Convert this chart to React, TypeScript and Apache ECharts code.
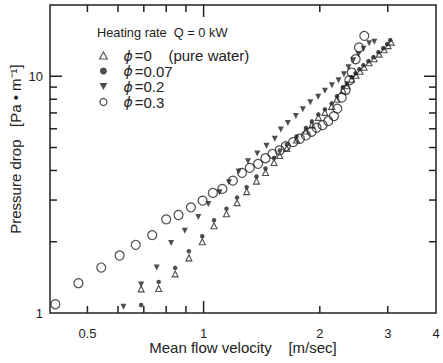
import React, { useEffect, useRef } from 'react';
import * as echarts from 'echarts';

// ---- axis ranges & ticks ----
const X_MIN = 0.4;
const X_MAX = 4;
const Y_MIN = 1;
const Y_MAX = 20;
const xTickMinor = [0.5, 0.6, 0.7, 0.8, 0.9, 2, 3];
const xTickMajor = [1];
const yTickMinor = [2, 3, 4, 5, 6, 7, 8, 9];
const yTickMajor = [10];
const xTickLabels = [0.5, 1, 2, 3, 4];
const yTickLabels = [1, 10];

// ---- series names ----
const seriesNames = ['ϕ=0    (pure water)', 'ϕ=0.07', 'ϕ=0.2', 'ϕ=0.3'];

// ---- data: phi = 0 (pure water) ----
const vWater = [0.689, 0.765, 0.844, 0.916, 0.992, 1.064, 1.146, 1.221, 1.293, 1.371, 1.447, 1.522, 1.575, 1.643, 1.741, 1.841, 1.908, 1.983, 2.062, 2.147, 2.216, 2.296, 2.352, 2.419, 2.482, 2.542, 2.604, 2.684, 2.765, 2.848, 2.935, 3.006, 3.061];
const pWater = [1.264, 1.27, 1.463, 1.71, 2.0, 2.337, 2.627, 2.925, 3.257, 3.608, 3.92, 4.321, 4.627, 4.955, 5.381, 5.875, 6.231, 6.704, 7.038, 7.463, 7.991, 8.724, 9.115, 9.712, 10.1, 10.5, 10.92, 11.41, 11.86, 12.4, 12.95, 13.47, 13.94];

// ---- data: phi = 0.07 ----
const v007 = [0.689, 0.765, 0.844, 0.916, 0.992, 1.064, 1.146, 1.221, 1.293, 1.371, 1.447, 1.522, 1.575, 1.643, 1.741, 1.841, 1.908, 1.983, 2.062, 2.147, 2.216, 2.296, 2.352, 2.419, 2.475, 2.532, 2.593, 2.672, 2.753, 2.837, 2.918, 2.988, 3.043];
const p007 = [1.081, 1.353, 1.551, 1.822, 2.11, 2.466, 2.759, 3.072, 3.402, 3.77, 4.076, 4.515, 4.858, 5.15, 5.568, 6.05, 6.448, 6.902, 7.247, 7.684, 8.228, 8.982, 9.34, 9.903, 10.3, 10.71, 11.13, 11.57, 12.04, 12.64, 13.14, 13.67, 14.21];

// ---- data: phi = 0.2 ----
const v02 = [0.62, 0.689, 0.756, 0.824, 0.894, 0.969, 1.029, 1.1, 1.163, 1.233, 1.303, 1.377, 1.455, 1.529, 1.585, 1.653, 1.734, 1.807, 1.89, 1.981, 2.062, 2.15, 2.236, 2.31, 2.373, 2.442, 2.519, 2.596, 2.684, 2.769];
const p02 = [1.063, 1.321, 1.556, 1.974, 2.226, 2.544, 2.888, 3.234, 3.565, 3.958, 4.376, 4.717, 5.087, 5.445, 5.963, 6.353, 6.8, 7.25, 7.76, 8.19, 8.68, 9.16, 9.62, 10.2, 10.92, 11.69, 12.4, 13.08, 13.8, 14.0];

// ---- data: phi = 0.3 ----
const v03 = [0.413, 0.474, 0.543, 0.606, 0.667, 0.736, 0.8, 0.861, 0.927, 0.994, 1.057, 1.118, 1.191, 1.257, 1.317, 1.384, 1.446, 1.508, 1.575, 1.633, 1.706, 1.776, 1.841, 1.905, 1.962, 2.034, 2.103, 2.176, 2.22, 2.279, 2.334, 2.385, 2.419, 2.477, 2.527, 2.608];
const p03 = [1.089, 1.336, 1.556, 1.749, 1.941, 2.134, 2.486, 2.594, 2.794, 2.983, 3.215, 3.343, 3.625, 3.908, 4.103, 4.267, 4.506, 4.704, 4.873, 5.067, 5.268, 5.445, 5.623, 5.83, 6.06, 6.22, 6.47, 6.79, 7.3, 8.12, 8.75, 9.62, 10.37, 11.8, 13.23, 14.82];

const FONT = '"Liberation Sans", Arial, Helvetica, sans-serif';
const INK = '#222';
const DOWN_TRIANGLE = 'path://M0,0L10,0L5,9Z';
const UP_TRIANGLE = 'path://M5,0L10,9L0,9Z';

const pairs = (xs: number[], ys: number[]) => xs.map((x, i) => [x, ys[i]]);

function tickSeries(values: number[], axis: 'x' | 'y', len: number) {
  return {
    type: 'custom',
    silent: true,
    z: 6,
    data: values.map((v) => (axis === 'x' ? [v, Y_MIN] : [X_MIN, v])),
    renderItem: (_p: any, api: any) => {
      const style = { stroke: INK, lineWidth: 1.5 };
      if (axis === 'x') {
        const v = api.value(0);
        const a = api.coord([v, Y_MIN]);
        const b = api.coord([v, Y_MAX]);
        return {
          type: 'group',
          children: [
            { type: 'line', shape: { x1: a[0], y1: a[1], x2: a[0], y2: a[1] - len }, style },
            { type: 'line', shape: { x1: b[0], y1: b[1], x2: b[0], y2: b[1] + len }, style },
          ],
        };
      }
      const v = api.value(1);
      const a = api.coord([X_MIN, v]);
      const b = api.coord([X_MAX, v]);
      return {
        type: 'group',
        children: [
          { type: 'line', shape: { x1: a[0], y1: a[1], x2: a[0] + len, y2: a[1] }, style },
          { type: 'line', shape: { x1: b[0], y1: b[1], x2: b[0] - len, y2: b[1] }, style },
        ],
      };
    },
  };
}

function labelSeries(values: number[], axis: 'x' | 'y') {
  return {
    type: 'custom',
    silent: true,
    z: 6,
    data: values.map((v) => (axis === 'x' ? [v, Y_MIN] : [X_MIN, v])),
    renderItem: (_p: any, api: any) => {
      if (axis === 'x') {
        const v = api.value(0);
        const a = api.coord([v, Y_MIN]);
        return {
          type: 'text',
          x: a[0],
          y: a[1] + 20,
          style: { text: String(v), fill: INK, fontSize: 13, fontFamily: FONT, align: 'center', verticalAlign: 'middle' },
        };
      }
      const v = api.value(1);
      const a = api.coord([X_MIN, v]);
      return {
        type: 'text',
        x: a[0] - 7,
        y: a[1],
        style: { text: String(v), fill: INK, fontSize: 13, fontFamily: FONT, align: 'right', verticalAlign: 'middle' },
      };
    },
  };
}

export default function App() {
  const ref = useRef<HTMLDivElement>(null);
  useEffect(() => {
    if (!ref.current) return;
    const chart = echarts.init(ref.current, null, { renderer: 'svg' });
    const option: any = {
      animation: false,
      backgroundColor: '#fff',
      title: {
        text: 'Heating rate  Q = 0 kW',
        left: 97,
        top: 26,
        padding: 0,
        textStyle: { fontSize: 12.8, fontWeight: 'normal', fontFamily: FONT, color: INK },
      },
      legend: {
        orient: 'vertical',
        left: 99,
        top: 48,
        padding: 0,
        itemWidth: 8,
        itemHeight: 7,
        itemGap: 0.5,
        selectedMode: false,
        data: [
          { name: seriesNames[0], icon: UP_TRIANGLE, itemStyle: { color: '#fff', borderColor: INK, borderWidth: 1.1 } },
          { name: seriesNames[1], icon: 'circle', itemStyle: { color: INK, borderWidth: 0 } },
          { name: seriesNames[2], icon: DOWN_TRIANGLE, itemStyle: { color: INK, borderWidth: 0 } },
          { name: seriesNames[3], icon: 'circle', itemStyle: { color: '#fff', borderColor: INK, borderWidth: 1.2 } },
        ],
        formatter: (n: string) => n.replace('ϕ', '{i|ϕ}'),
        textStyle: {
          fontSize: 15,
          lineHeight: 15,
          fontFamily: FONT,
          color: INK,
          rich: {
            i: { fontStyle: 'italic', fontFamily: '"DejaVu Sans"', fontSize: 14, lineHeight: 15, color: INK, padding: [0, 2, 0, 11] },
          },
        },
      },
      grid: { left: 50, right: 7, top: 5, bottom: 50, show: true, borderColor: INK, borderWidth: 1.5 },
      xAxis: {
        type: 'log',
        logBase: 10,
        min: X_MIN,
        max: X_MAX,
        axisLine: { show: false },
        axisTick: { show: false },
        axisLabel: { show: false },
        splitLine: { show: false },
        name: 'Mean flow velocity    [m/sec]',
        nameLocation: 'middle',
        nameGap: 27,
        nameTextStyle: { fontSize: 15, fontFamily: FONT, color: INK },
      },
      yAxis: {
        type: 'log',
        logBase: 10,
        min: Y_MIN,
        max: Y_MAX,
        axisLine: { show: false },
        axisTick: { show: false },
        axisLabel: { show: false },
        splitLine: { show: false },
        name: 'Pressure drop   [Pa • m⁻¹]',
        nameLocation: 'middle',
        nameRotate: 90,
        nameGap: 27,
        nameTextStyle: { fontSize: 15, fontFamily: FONT, color: INK, padding: [0, 0, 0, 20] },
      },
      series: [
        {
          name: seriesNames[0],
          type: 'scatter',
          symbol: 'triangle',
          symbolSize: 6,
          z: 3,
          itemStyle: { color: '#fff', borderColor: INK, borderWidth: 1.1 },
          data: pairs(vWater, pWater),
        },
        {
          name: seriesNames[1],
          type: 'scatter',
          symbol: 'circle',
          symbolSize: 4.5,
          z: 4,
          itemStyle: { color: INK },
          data: pairs(v007, p007),
        },
        {
          name: seriesNames[2],
          type: 'scatter',
          symbol: 'triangle',
          symbolRotate: 180,
          symbolSize: 6,
          z: 4,
          itemStyle: { color: INK },
          data: pairs(v02, p02),
        },
        {
          name: seriesNames[3],
          type: 'scatter',
          symbol: 'circle',
          symbolSize: 9,
          z: 5,
          itemStyle: { color: 'rgba(255,255,255,0)', borderColor: INK, borderWidth: 1.2 },
          data: pairs(v03, p03),
        },
        tickSeries(xTickMinor, 'x', 7),
        tickSeries(xTickMajor, 'x', 12),
        tickSeries(yTickMinor, 'y', 7),
        tickSeries(yTickMajor, 'y', 12),
        labelSeries(xTickLabels, 'x'),
        labelSeries(yTickLabels, 'y'),
      ],
    };
    chart.setOption(option);
    return () => chart.dispose();
  }, []);
  return (
    <div
      ref={ref}
      style={{ position: 'fixed', left: 0, top: 0, width: 443, height: 363, background: '#fff' }}
    />
  );
}
